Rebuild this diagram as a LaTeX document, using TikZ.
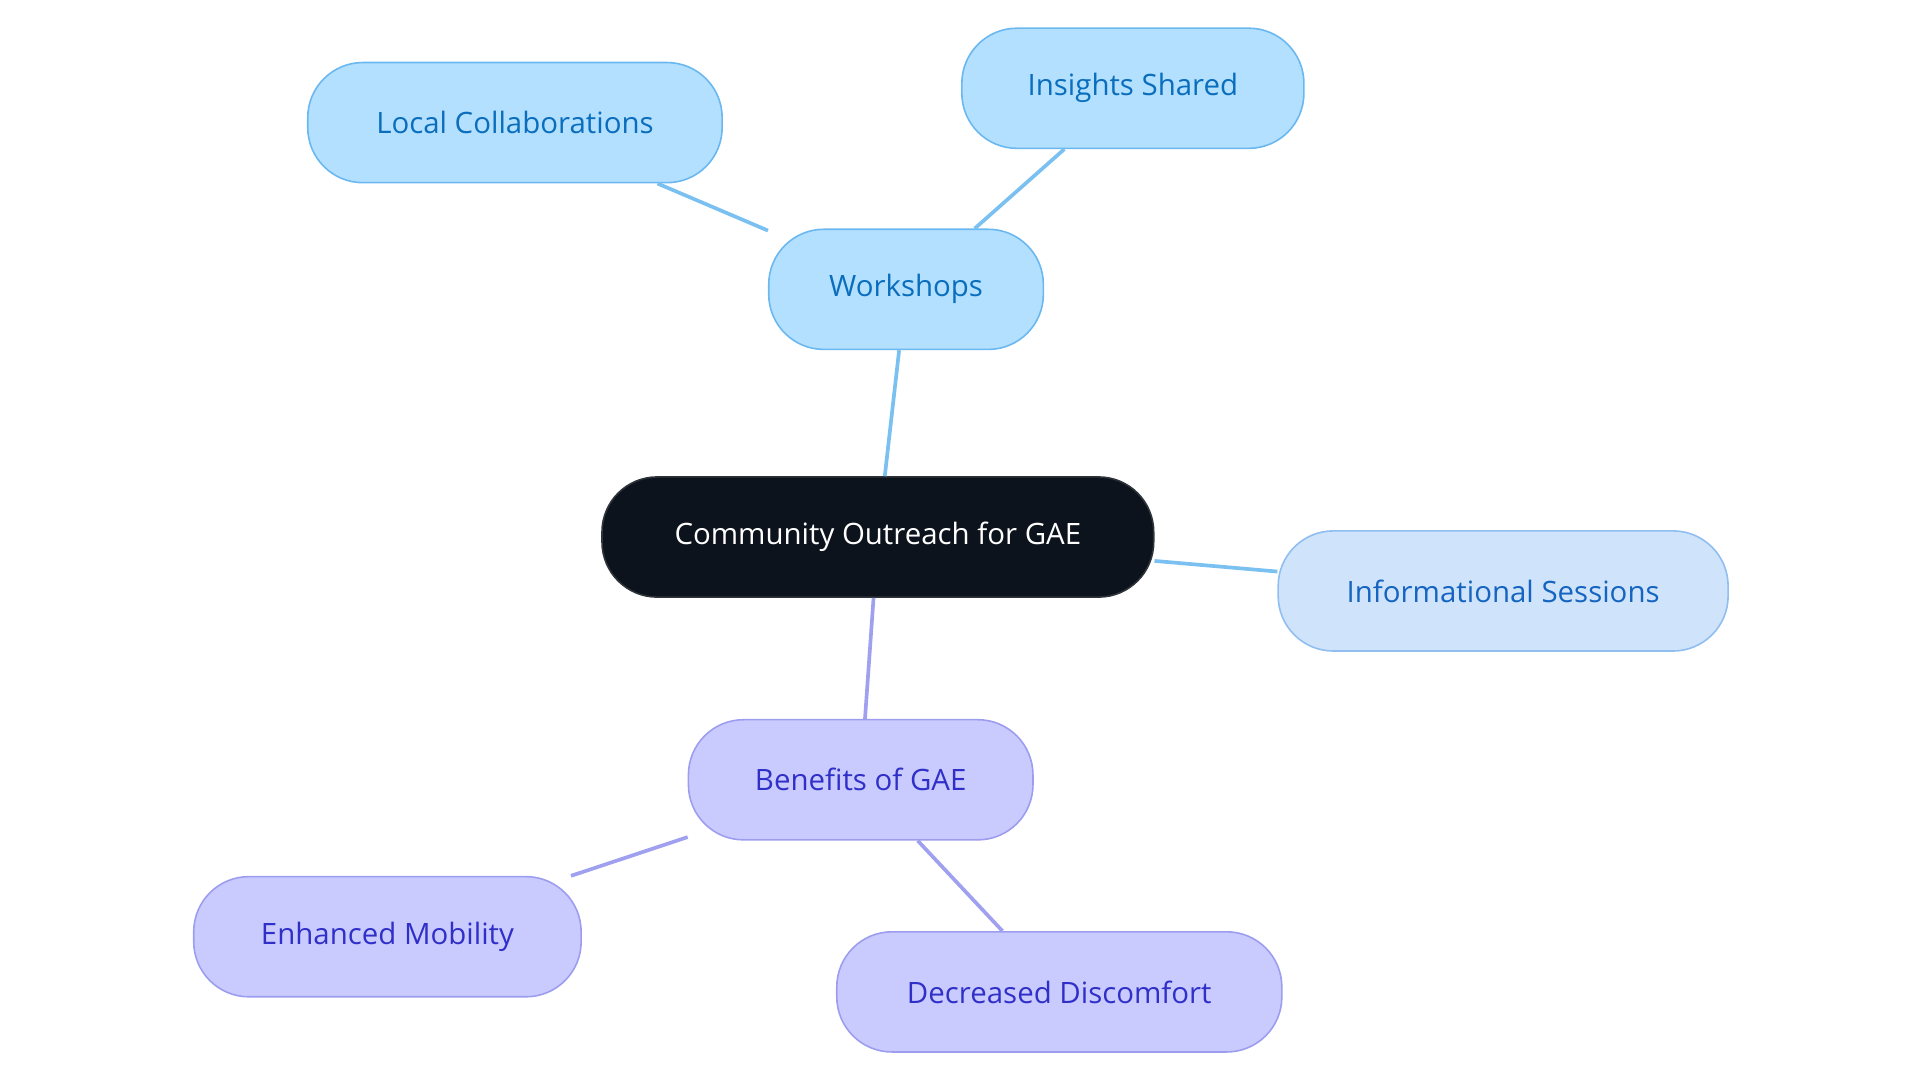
\documentclass[tikz,border=0pt]{standalone}
\usepackage{fontspec}
\setmainfont{Open Sans}
\definecolor{bfill}{HTML}{B3E0FF}\definecolor{bdraw}{HTML}{6BB8F0}\definecolor{btext}{HTML}{0A6EBD}
\definecolor{ifill}{HTML}{CFE3FA}\definecolor{idraw}{HTML}{90BEF0}\definecolor{itext}{HTML}{1565C0}
\definecolor{pfill}{HTML}{C9CBFF}\definecolor{pdraw}{HTML}{9D9DF0}\definecolor{ptext}{HTML}{3030C8}
\definecolor{cfill}{HTML}{0D131C}
\definecolor{bedge}{HTML}{7AC0F0}\definecolor{pedge}{HTML}{A0A0F0}
\begin{document}
\begin{tikzpicture}[x=1pt,y=-1pt,
 pill/.style={rounded corners=45pt,line width=1.3pt,minimum height=98pt,inner sep=0pt,font=\fontsize{24}{28}\selectfont},
 bn/.style={pill,fill=bfill,draw=bdraw,text=btext},
 inn/.style={pill,fill=ifill,draw=idraw,text=itext},
 pn/.style={pill,fill=pfill,draw=pdraw,text=ptext},
 cn/.style={pill,fill=cfill,draw=cfill!70!gray,text=white},
 be/.style={draw=bedge,line width=3pt},
 pe/.style={draw=pedge,line width=3pt}]
\useasboundingbox (0,0) rectangle (1566,883);
\node[cn,minimum width=450pt] (c) at (716,438) {Community Outreach for GAE};
\node[bn,minimum width=224pt] (w) at (739,236) {Workshops};
\node[bn,minimum width=338pt] (l) at (420,100) {Local Collaborations};
\node[bn,minimum width=279pt] (s) at (924,72) {Insights Shared};
\node[inn,minimum width=367pt] (i) at (1226,482) {Informational Sessions};
\node[pn,minimum width=281pt] (b) at (702,636) {Benefits of GAE};
\node[pn,minimum width=316pt] (e) at (316,764) {Enhanced Mobility};
\node[pn,minimum width=363pt] (d) at (864,809) {Decreased Discomfort};
\begin{scope}[on background layer/.try]
\end{scope}
\path[be] (c) -- (w);
\path[be] (w) -- (l);
\path[be] (w) -- (s);
\path[be] (c) -- (i);
\path[pe] (c) -- (b);
\path[pe] (b) -- (e);
\path[pe] (b) -- (d);
\end{tikzpicture}
\end{document}
